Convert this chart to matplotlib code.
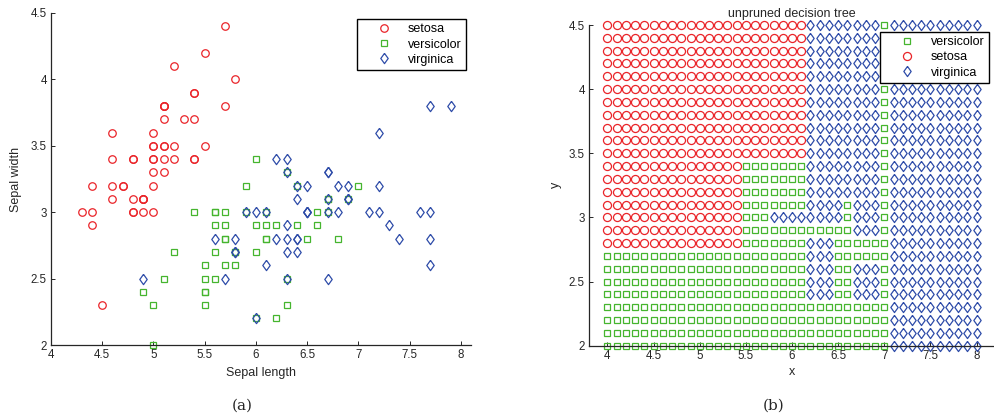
import matplotlib
matplotlib.use("Agg")
import matplotlib.pyplot as plt

plt.rcParams['font.family'] = ['Liberation Sans', 'DejaVu Sans']

# ---- (a) iris sepal measurements ----
setosa_len = [5.1, 4.9, 4.7, 4.6, 5.0, 5.4, 4.6, 5.0, 4.4, 4.9, 5.4, 4.8, 4.8, 4.3, 5.8, 5.7, 5.4,
              5.1, 5.7, 5.1, 5.4, 5.1, 4.6, 5.1, 4.8, 5.0, 5.0, 5.2, 5.2, 4.7, 4.8, 5.4, 5.2, 5.5,
              4.9, 5.0, 5.5, 4.9, 4.4, 5.1, 5.0, 4.5, 4.4, 5.0, 5.1, 4.8, 5.1, 4.6, 5.3, 5.0]
setosa_wid = [3.5, 3.0, 3.2, 3.1, 3.6, 3.9, 3.4, 3.4, 2.9, 3.1, 3.7, 3.4, 3.0, 3.0, 4.0, 4.4, 3.9,
              3.5, 3.8, 3.8, 3.4, 3.7, 3.6, 3.3, 3.4, 3.0, 3.4, 3.5, 3.4, 3.2, 3.1, 3.4, 4.1, 4.2,
              3.1, 3.2, 3.5, 3.1, 3.0, 3.4, 3.5, 2.3, 3.2, 3.5, 3.8, 3.0, 3.8, 3.2, 3.7, 3.3]
versicolor_len = [7.0, 6.4, 6.9, 5.5, 6.5, 5.7, 6.3, 4.9, 6.6, 5.2, 5.0, 5.9, 6.0, 6.1, 5.6, 6.7, 5.6,
                  5.8, 6.2, 5.6, 5.9, 6.1, 6.3, 6.1, 6.4, 6.6, 6.8, 6.7, 6.0, 5.7, 5.5, 5.5, 5.8, 6.0,
                  5.4, 6.0, 6.7, 6.3, 5.6, 5.5, 5.5, 6.1, 5.8, 5.0, 5.6, 5.7, 5.7, 6.2, 5.1, 5.7]
versicolor_wid = [3.2, 3.2, 3.1, 2.3, 2.8, 2.8, 3.3, 2.4, 2.9, 2.7, 2.0, 3.0, 2.2, 2.9, 2.9, 3.1, 3.0,
                  2.7, 2.2, 2.5, 3.2, 2.8, 2.5, 2.8, 2.9, 3.0, 2.8, 3.0, 2.9, 2.6, 2.4, 2.4, 2.7, 2.7,
                  3.0, 3.4, 3.1, 2.3, 3.0, 2.5, 2.6, 3.0, 2.6, 2.3, 2.7, 3.0, 2.9, 2.9, 2.5, 2.8]
virginica_len = [6.3, 5.8, 7.1, 6.3, 6.5, 7.6, 4.9, 7.3, 6.7, 7.2, 6.5, 6.4, 6.8, 5.7, 5.8, 6.4, 6.5,
                 7.7, 7.7, 6.0, 6.9, 5.6, 7.7, 6.3, 6.7, 7.2, 6.2, 6.1, 6.4, 7.2, 7.4, 7.9, 6.4, 6.3,
                 6.1, 7.7, 6.3, 6.4, 6.0, 6.9, 6.7, 6.9, 5.8, 6.8, 6.7, 6.7, 6.3, 6.5, 6.2, 5.9]
virginica_wid = [3.3, 2.7, 3.0, 2.9, 3.0, 3.0, 2.5, 2.9, 2.5, 3.6, 3.2, 2.7, 3.0, 2.5, 2.8, 3.2, 3.0,
                 3.8, 2.6, 2.2, 3.2, 2.8, 2.8, 2.7, 3.3, 3.2, 2.8, 3.0, 2.8, 3.0, 2.8, 3.8, 2.8, 2.8,
                 2.6, 3.0, 3.4, 3.1, 3.0, 3.1, 3.1, 3.1, 2.7, 3.2, 3.3, 3.0, 2.5, 3.0, 3.4, 3.0]

# ---- (b) predicted class on a grid (o=setosa, s=versicolor, d=virginica) ----
grid_x = [4.0, 4.1, 4.2, 4.3, 4.4, 4.5, 4.6, 4.7, 4.8, 4.9, 5.0, 5.1, 5.2, 5.3, 5.4, 5.5, 5.6,
          5.7, 5.8, 5.9, 6.0, 6.1, 6.2, 6.3, 6.4, 6.5, 6.6, 6.7, 6.8, 6.9, 7.0, 7.1, 7.2, 7.3,
          7.4, 7.5, 7.6, 7.7, 7.8, 7.9, 8.0]
grid_y = [4.5, 4.4, 4.3, 4.2, 4.1, 4.0, 3.9, 3.8, 3.7, 3.6, 3.5, 3.4, 3.3, 3.2, 3.1, 3.0, 2.9,
          2.8, 2.7, 2.6, 2.5, 2.4, 2.3, 2.2, 2.1, 2.0]
# run-length encoded rows, top (4.5) to bottom (2.0)
top_run = [('o', 22), ('d', 8), ('s', 1), ('d', 10)]
mid_run = [('o', 15), ('s', 7), ('d', 8), ('s', 1), ('d', 10)]
low_run = [('s', 22), ('d', 3), ('s', 2), ('d', 3), ('s', 1), ('d', 10)]
base_run = [('s', 31), ('d', 10)]
region_runs = [top_run] * 11 + [mid_run] * 3 + [
    [('o', 15), ('s', 7), ('d', 4), ('s', 1), ('d', 3), ('s', 1), ('d', 10)],
    [('o', 15), ('s', 3), ('d', 8), ('s', 1), ('d', 3), ('s', 1), ('d', 10)],
    [('o', 15), ('s', 12), ('d', 3), ('s', 1), ('d', 10)],
    [('o', 15), ('s', 7), ('d', 3), ('s', 6), ('d', 10)],
    [('s', 22), ('d', 3), ('s', 6), ('d', 10)],
] + [low_run] * 3 + [base_run] * 4

red = '#ea2429'
green = '#45b52e'
blue = '#2d4ba8'
diamond = [(0, 1), (0.72, 0), (0, -1), (-0.72, 0), (0, 1)]
ink = '#262626'

fig = plt.figure(figsize=(9.94, 4.17), dpi=100)
W, H = 994.0, 417.0


def style_axes(ax):
    ax.spines['top'].set_visible(False)
    ax.spines['right'].set_visible(False)
    for s in ('left', 'bottom'):
        ax.spines[s].set_color(ink)
        ax.spines[s].set_linewidth(0.9)
    ax.tick_params(direction='in', length=3, width=0.7, colors=ink, labelsize=8.3, pad=3)


def add_legend(ax, right, top):
    leg = ax.legend(loc='upper right', bbox_to_anchor=(right / W, 1 - top / H),
                    bbox_transform=fig.transFigure, numpoints=1, fancybox=False, framealpha=1,
                    edgecolor='black', borderaxespad=0, handlelength=3.6, handletextpad=0.1,
                    labelspacing=0.25, borderpad=0.35, prop={'size': 9})
    leg.get_frame().set_linewidth(1.0)
    return leg


# ---- panel (a) ----
ax1 = fig.add_axes([51 / W, (H - 345) / H, 420 / W, 332 / H])
ax1.plot(setosa_len, setosa_wid, 'o', mfc='none', mec=red, ms=5.4, mew=0.9, label='setosa', clip_on=False)
ax1.plot(versicolor_len, versicolor_wid, 's', mfc='none', mec=green, ms=4.5, mew=0.9, label='versicolor',
         clip_on=False)
ax1.plot(virginica_len, virginica_wid, marker=diamond, ls='none', mfc='none', mec=blue, ms=7.4, mew=0.9,
         label='virginica', clip_on=False)
ax1.set_xlim(4, 8.1)
ax1.set_ylim(2, 4.5)
ax1.set_xticks([4, 4.5, 5, 5.5, 6, 6.5, 7, 7.5, 8])
ax1.set_xticklabels(['4', '4.5', '5', '5.5', '6', '6.5', '7', '7.5', '8'])
ax1.set_yticks([2, 2.5, 3, 3.5, 4, 4.5])
ax1.set_yticklabels(['2', '2.5', '3', '3.5', '4', '4.5'])
style_axes(ax1)
ax1.set_xlabel('Sepal length', fontsize=9, color=ink, labelpad=4)
ax1.set_ylabel('Sepal width', fontsize=9, color=ink, labelpad=6)
add_legend(ax1, 466, 19)

# ---- panel (b) ----
ax2 = fig.add_axes([589 / W, (H - 345.7) / H, 406 / W, 320.7 / H])
pts = {'o': ([], []), 's': ([], []), 'd': ([], [])}
for yv, runs in zip(grid_y, region_runs):
    i = 0
    for cls, n in runs:
        for xv in grid_x[i:i + n]:
            pts[cls][0].append(xv)
            pts[cls][1].append(yv)
        i += n

ax2.plot(pts['s'][0], pts['s'][1], 's', mfc='none', mec=green, ms=4.5, mew=0.9, label='versicolor',
         clip_on=False)
ax2.plot(pts['o'][0], pts['o'][1], 'o', mfc='none', mec=red, ms=5.8, mew=0.9, label='setosa', clip_on=False)
ax2.plot(pts['d'][0], pts['d'][1], marker=diamond, ls='none', mfc='none', mec=blue, ms=7.3, mew=0.9,
         label='virginica', clip_on=False)
ax2.set_xlim(3.8, 8.2)
ax2.set_ylim(2, 4.5)
ax2.set_xticks([4, 4.5, 5, 5.5, 6, 6.5, 7, 7.5, 8])
ax2.set_xticklabels(['4', '4.5', '5', '5.5', '6', '6.5', '7', '7.5', '8'])
ax2.set_yticks([2, 2.5, 3, 3.5, 4, 4.5])
ax2.set_yticklabels(['2', '2.5', '3', '3.5', '4', '4.5'])
style_axes(ax2)
ax2.set_xlabel('x', fontsize=9, color=ink, labelpad=3)
ax2.set_ylabel('y', fontsize=9, color=ink, labelpad=5)
ax2.set_title('unpruned decision tree', fontsize=9, color=ink, pad=6)
add_legend(ax2, 989, 32)

fig.text(242 / W, 1 - 406 / H, '(a)', ha='center', va='center', family='DejaVu Serif', size=11, color=ink)
fig.text(774 / W, 1 - 406 / H, '(b)', ha='center', va='center', family='DejaVu Serif', size=11, color=ink)

fig.savefig('out.png', dpi=100)
